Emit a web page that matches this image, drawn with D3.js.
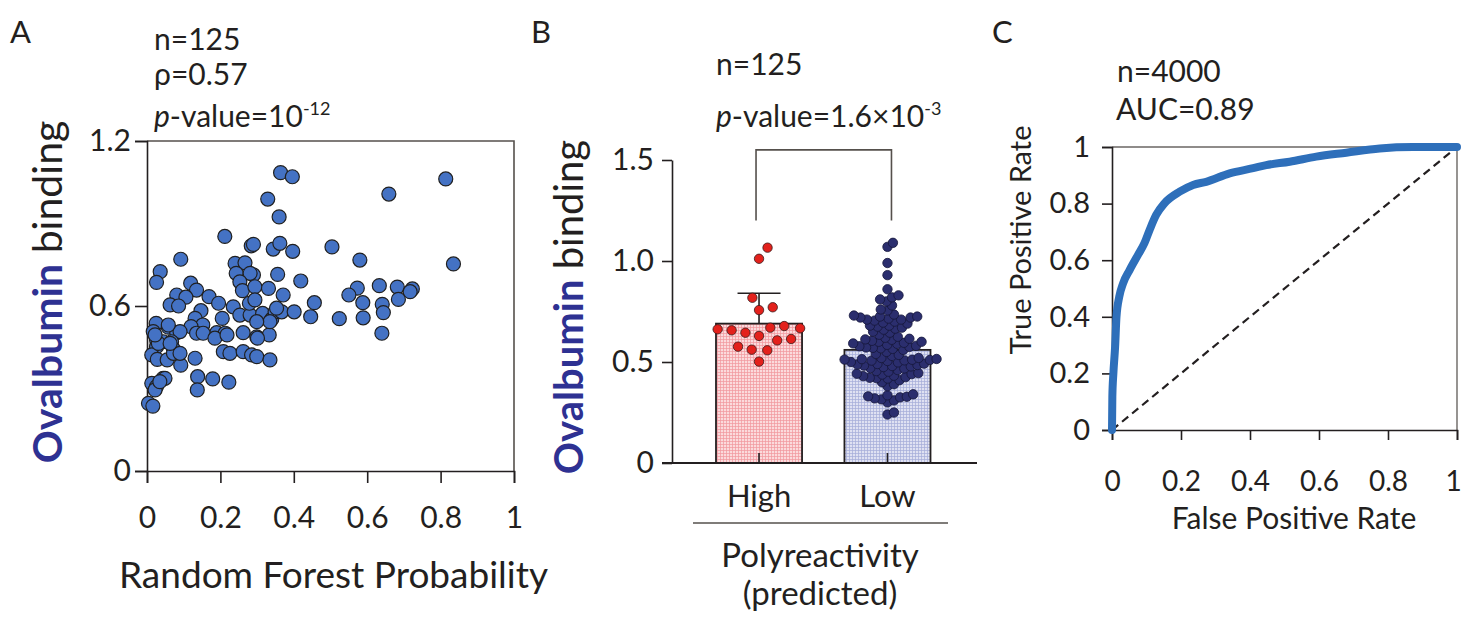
<!DOCTYPE html>
<html>
<head>
<meta charset="utf-8">
<script src="https://cdn.jsdelivr.net/npm/d3@7"></script>
<style>
  body { margin: 0; background: #fff; }
  text { font-family: Lato, "Open Sans", sans-serif; fill: #231f20; }
</style>
</head>
<body>
<svg id="fig" width="1462" height="621"></svg>
<script>
// ---- panel A: random forest probability vs ovalbumin binding
const rfProb = [0.364,0.396,0.814,0.659,0.329,0.360,0.212,0.284,0.290,0.344,0.362,0.397,0.504,0.092,0.580,0.835,
  0.036,0.026,0.240,0.267,0.243,0.290,0.281,0.356,0.419,0.253,0.260,0.294,0.331,0.371,0.119,0.135,0.081,0.106,
  0.063,0.086,0.169,0.195,0.147,0.131,0.152,0.205,0.235,0.253,0.281,0.279,0.294,0.315,0.340,0.349,0.367,0.401,
  0.446,0.456,0.573,0.550,0.633,0.682,0.723,0.717,0.588,0.641,0.644,0.685,0.524,0.589,0.640,0.025,0.017,0.058,
  0.081,0.120,0.135,0.262,0.299,0.333,0.190,0.213,0.026,0.026,0.090,0.044,0.067,0.072,0.013,0.028,0.055,0.092,
  0.131,0.153,0.185,0.208,0.226,0.262,0.285,0.299,0.301,0.335,0.138,0.179,0.223,0.137,0.013,0.026,0.044,0.022,
  0.004,0.016,0.072,0.090,0.049,0.035,0.335,0.299,0.058,0.218,0.031,0.063,0.022,0.353]
const ovaBindA = [1.085,1.070,1.062,1.007,0.989,0.924,0.853,0.819,0.824,0.807,0.828,0.799,0.815,0.770,0.767,0.753,
  0.725,0.686,0.755,0.757,0.719,0.713,0.719,0.715,0.691,0.688,0.656,0.670,0.664,0.640,0.683,0.658,0.640,0.632,
  0.604,0.600,0.634,0.610,0.583,0.555,0.531,0.555,0.597,0.567,0.567,0.610,0.622,0.573,0.552,0.579,0.579,0.579,
  0.561,0.612,0.665,0.640,0.674,0.669,0.662,0.652,0.612,0.606,0.576,0.624,0.554,0.557,0.501,0.537,0.507,0.523,
  0.503,0.525,0.501,0.503,0.488,0.495,0.503,0.501,0.476,0.452,0.507,0.470,0.470,0.443,0.422,0.406,0.404,0.385,
  0.410,0.501,0.483,0.434,0.428,0.434,0.422,0.416,0.483,0.404,0.343,0.335,0.323,0.295,0.319,0.307,0.337,0.295,
  0.246,0.236,0.428,0.428,0.337,0.325,0.543,0.543,0.531,0.495,0.464,0.464,0.495,0.592]
const xTicksA = [0,0.2,0.4,0.6,0.8,1]
const yTicksA = [0,0.6,1.2]

// ---- panel B: predicted polyreactivity groups
const groups = ["High","Low"]
const groupMeans = [0.69,0.56]
const highSD = 0.15
const highVals = [1.066,1.011,0.818,0.757,0.771,0.662,0.667,0.670,0.678,0.657,0.645,0.629,0.576,0.607,0.614,0.561,0.558,0.502]
const lowVals = [1.09,1.07,0.99,0.93,0.86,0.83,0.82,0.81,0.80,0.78,0.76,0.755,
  0.735,0.725,0.72,0.715,0.725,0.73,0.72,0.71,0.70,0.69,0.705,0.695,0.71,0.68,
  0.665,0.66,0.67,0.675,0.68,0.635,0.65,0.645,0.605,0.60,0.61,0.615,0.62,0.612,0.595,0.585,0.59,0.592,0.60,
  0.575,0.57,0.565,0.578,0.572,0.56,0.568,0.58,0.55,0.54,0.53,0.52,0.535,0.625,
  0.515,0.505,0.51,0.512,0.508,0.50,0.52,0.498,0.511,0.507,0.514,
  0.485,0.475,0.48,0.49,0.492,0.47,0.488,0.478,0.482,0.468,
  0.452,0.44,0.445,0.438,0.455,0.43,0.442,0.46,0.42,0.418,0.41,0.425,0.422,0.432,0.40,0.38,0.39,
  0.33,0.335,0.32,0.31,0.325,0.328,0.34,0.30,0.315,0.25,0.24]
const yTicksB = [0,0.5,1.0,1.5]

// ---- panel C: ROC curve
const rocFpr = [0,0.001,0.004,0.009,0.013,0.021,0.032,0.051,0.075,0.094,0.109,0.128,0.152,0.196,0.235,0.273,
  0.341,0.409,0.447,0.515,0.592,0.679,0.776,0.872,1.0]
const rocTpr = [0,0.118,0.2,0.294,0.400,0.471,0.518,0.565,0.618,0.660,0.707,0.760,0.801,0.842,0.866,0.877,
  0.907,0.925,0.936,0.948,0.966,0.980,0.995,1.0,1.0]
const xTicksC = [0,0.2,0.4,0.6,0.8,1]
const yTicksC = [0,0.2,0.4,0.6,0.8,1]

const ink = "#231f20"
const navy = "#2e3192"
const svg = d3.select("#fig")

// pattern fills for the bars
const defs = svg.append("defs")
function gridPattern(id, bg, line) {
    const p = defs.append("pattern").attr("id", id)
        .attr("width", 3).attr("height", 3).attr("patternUnits", "userSpaceOnUse")
    p.append("rect").attr("width", 3).attr("height", 3).attr("fill", bg)
    p.append("path").attr("d", "M0,0.5H3M0.5,0V3").attr("stroke", line).attr("stroke-width", 0.7)
}
gridPattern("gHigh", "#fbdadc", "#f0979d")
gridPattern("gLow", "#dfe1f2", "#a5acd8")

function styleAxis(g, size) {
    g.attr("font-family", null).attr("font-size", null)
    g.selectAll("path, line").attr("stroke", ink).attr("stroke-width", 1.6)
    g.selectAll("text").attr("font-size", size).attr("fill", ink)
}
const fmt = d => String(d)

function yLabel(x, y, parts, size) {
    const t = svg.append("text").attr("transform", `translate(${x},${y}) rotate(-90)`)
        .attr("text-anchor", "middle").attr("font-size", size)
    parts.forEach(p => t.append("tspan").text(p.t)
        .attr("font-weight", p.bold ? 700 : 400).attr("fill", p.bold ? navy : ink))
}

function note(x, y, parts, size) {
    const t = svg.append("text").attr("x", x).attr("y", y).attr("font-size", size)
    parts.forEach(p => {
        const s = t.append("tspan").text(p.t)
        if (p.i) s.attr("font-style", "italic")
        if (p.sup) s.attr("font-size", size * 0.6).attr("dy", -size * 0.4)
    })
}

// ================= A =================
const xA = d3.scaleLinear().domain([0, 1]).range([147, 514])
const yA = d3.scaleLinear().domain([0, 1.2]).range([471, 141])

svg.append("path")
    .attr("d", `M${xA(0)},${yA(1.2)}H${xA(1)}V${yA(0)}`)
    .attr("fill", "none").attr("stroke", "#55504c").attr("stroke-width", 1.6)

svg.append("g").attr("transform", `translate(0,${yA(0)})`)
    .call(d3.axisBottom(xA).tickValues(xTicksA).tickFormat(fmt).tickSize(12).tickPadding(24))
    .call(g => styleAxis(g, 30))
svg.append("g").attr("transform", `translate(${xA(0)},0)`)
    .call(d3.axisLeft(yA).tickValues(yTicksA).tickFormat(fmt).tickSize(12).tickPadding(4))
    .call(g => styleAxis(g, 30))

svg.append("g").selectAll("circle")
    .data(rfProb.map((d, i) => [d, ovaBindA[i]]))
    .join("circle")
    .attr("cx", d => xA(d[0]))
    .attr("cy", d => yA(d[1]))
    .attr("r", 7)
    .attr("fill", "#4472c4")
    .attr("stroke", "#202020")
    .attr("stroke-width", 1.2)

svg.append("text").attr("x", (xA(0) + xA(1)) / 2 + 3).attr("y", 588)
    .attr("text-anchor", "middle").attr("font-size", 37).text("Random Forest Probability")
yLabel(62, 292, [{t: "Ovalbumin", bold: true}, {t: " binding"}], 41)

svg.append("text").attr("x", 10).attr("y", 43).attr("font-size", 31).text("A")
note(154, 50, [{t: "n=125"}], 30)
note(154, 85, [{t: "\u03c1=0.57"}], 30)
note(154, 127, [{t: "p", i: true}, {t: "-value=10"}, {t: "-12", sup: true}], 30)

// ================= B =================
const yB = d3.scaleLinear().domain([0, 1.5]).range([463, 160])
const xB = d3.scaleBand().domain(groups).range([716, 930.5]).paddingInner(0.33).paddingOuter(0)
const cx = g => xB(g) + xB.bandwidth() / 2

svg.append("g").selectAll("rect")
    .data(groups)
    .join("rect")
    .attr("x", d => xB(d))
    .attr("width", xB.bandwidth())
    .attr("y", (d, i) => yB(groupMeans[i]))
    .attr("height", (d, i) => yB(0) - yB(groupMeans[i]))
    .attr("fill", (d, i) => i === 0 ? "url(#gHigh)" : "url(#gLow)")
    .attr("stroke", ink).attr("stroke-width", 1.8)

// error bar on the High group
svg.append("path")
    .attr("d", `M${cx("High")},${yB(groupMeans[0])}V${yB(groupMeans[0] + highSD)}` +
               `M${cx("High") - 21.5},${yB(groupMeans[0] + highSD)}h43`)
    .attr("stroke", ink).attr("stroke-width", 1.6).attr("fill", "none")

svg.append("g").attr("transform", `translate(0,${yB(0)})`)
    .call(d3.axisBottom(xB).tickSizeInner(-10).tickSizeOuter(0).tickPadding(22))
    .call(g => styleAxis(g, 31))
    .call(g => g.select(".domain").remove())
svg.append("line").attr("x1", 662).attr("x2", 977).attr("y1", yB(0)).attr("y2", yB(0))
    .attr("stroke", ink).attr("stroke-width", 1.8)
svg.append("g").attr("transform", `translate(672,0)`)
    .call(d3.axisLeft(yB).tickValues(yTicksB).tickFormat(d => d === 0 ? "0" : d.toFixed(1))
        .tickSizeInner(10).tickSizeOuter(0).tickPadding(8))
    .call(g => styleAxis(g, 30))

// beeswarm offsets, computed from the values (sp = spacing radius, dots may overlap a little)
function swarm(vals, sp) {
    const pts = vals.map(v => ({v, y: yB(v), dx: 0})).sort((a, b) => a.v - b.v)
    const placed = []
    const d2 = (2 * sp) ** 2
    pts.forEach(p => {
        const near = placed.filter(q => Math.abs(q.y - p.y) < 2 * sp)
        const cand = [0]
        near.forEach(q => {
            const w = Math.sqrt(d2 - (q.y - p.y) ** 2)
            cand.push(q.dx + w, q.dx - w)
        })
        cand.sort((a, b) => Math.abs(a) - Math.abs(b))
        p.dx = cand.find(c => near.every(q => (c - q.dx) ** 2 + (q.y - p.y) ** 2 >= d2 - 0.01))
        placed.push(p)
    })
    return pts
}
svg.append("g").selectAll("circle")
    .data(swarm(highVals, 7))
    .join("circle")
    .attr("cx", d => cx("High") + d.dx).attr("cy", d => d.y).attr("r", 4.7)
    .attr("fill", "#e3211c").attr("stroke", "#3a1a1a").attr("stroke-width", 0.8)
svg.append("g").selectAll("circle")
    .data(swarm(lowVals, 3.4))
    .join("circle")
    .attr("cx", d => cx("Low") + d.dx).attr("cy", d => d.y).attr("r", 4.7)
    .attr("fill", "#2b2e6e").attr("stroke", "#15163a").attr("stroke-width", 0.8)

// significance bracket
svg.append("path")
    .attr("d", `M${cx("High") - 3},${yB(1.2)}V${yB(1.55)}H${cx("Low") + 4}V${yB(1.2)}`)
    .attr("fill", "none").attr("stroke", "#55504c").attr("stroke-width", 1.6)

svg.append("line").attr("x1", 693).attr("x2", 948).attr("y1", 523).attr("y2", 523)
    .attr("stroke", "#55504c").attr("stroke-width", 1.6)
svg.append("text").attr("x", 820).attr("y", 567).attr("text-anchor", "middle")
    .attr("font-size", 33).text("Polyreactivity")
svg.append("text").attr("x", 820).attr("y", 605).attr("text-anchor", "middle")
    .attr("font-size", 33).text("(predicted)")
yLabel(583, 307, [{t: "Ovalbumin", bold: true}, {t: " binding"}], 40)

svg.append("text").attr("x", 531).attr("y", 43).attr("font-size", 31).text("B")
note(716, 75, [{t: "n=125"}], 30)
note(716, 127, [{t: "p", i: true}, {t: "-value=1.6\u00d710"}, {t: "-3", sup: true}], 30)

// ================= C =================
const xC = d3.scaleLinear().domain([0, 1]).range([1112, 1457])
const yC = d3.scaleLinear().domain([0, 1]).range([430, 147])

svg.append("path")
    .attr("d", `M${xC(0)},${yC(1)}H${xC(1)}V${yC(0)}`)
    .attr("fill", "none").attr("stroke", "#6b6764").attr("stroke-width", 1.4)
svg.append("g").attr("transform", `translate(0,${yC(0)})`)
    .call(d3.axisBottom(xC).tickValues(xTicksC).tickFormat(fmt).tickSize(10).tickPadding(31))
    .call(g => styleAxis(g, 28))
    .call(g => g.selectAll(".tick text").filter(d => d === 1).attr("dx", -4))
svg.append("g").attr("transform", `translate(${xC(0)},0)`)
    .call(d3.axisLeft(yC).tickValues(yTicksC).tickFormat(fmt).tickSize(10).tickPadding(12))
    .call(g => styleAxis(g, 29))

svg.append("line")
    .attr("x1", xC(0)).attr("y1", yC(0)).attr("x2", xC(1)).attr("y2", yC(1))
    .attr("stroke", ink).attr("stroke-width", 2.2).attr("stroke-dasharray", "8,5")

svg.append("path")
    .datum(rocFpr.map((d, i) => [d, rocTpr[i]]))
    .attr("d", d3.line().x(d => xC(d[0])).y(d => yC(d[1])).curve(d3.curveMonotoneX))
    .attr("fill", "none").attr("stroke", "#2e6fba").attr("stroke-width", 8)
    .attr("stroke-linecap", "round").attr("stroke-linejoin", "round")

svg.append("text").attr("x", 1294).attr("y", 529)
    .attr("text-anchor", "middle").attr("font-size", 30).text("False Positive Rate")
yLabel(1031, 240, [{t: "True Positive Rate"}], 29)

svg.append("text").attr("x", 992).attr("y", 43).attr("font-size", 31).text("C")
note(1117, 82, [{t: "n=4000"}], 30)
note(1116, 120, [{t: "AUC=0.89"}], 30)
</script>
</body>
</html>
